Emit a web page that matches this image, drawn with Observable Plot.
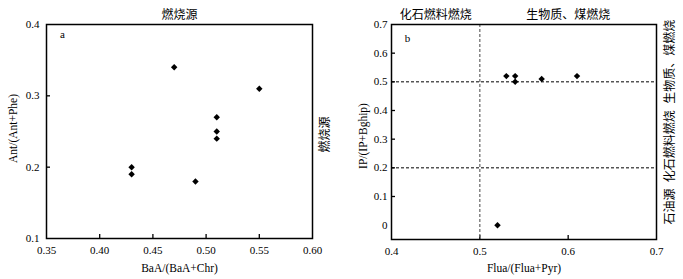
<!DOCTYPE html>
<html>
<head>
<meta charset="utf-8">
<script src="https://cdn.jsdelivr.net/npm/d3@7"></script>
<script src="https://cdn.jsdelivr.net/npm/@observablehq/plot@0.6"></script>
<style>
  body { margin: 0; background: #fff; }
  #wrap { display: flex; width: 683px; height: 279px; }
  #wrap svg, #wrap svg text { font-family: "Liberation Serif", "Times New Roman", "Noto Sans CJK SC", serif !important; }
</style>
</head>
<body>
<div id="wrap"></div>
<script>
// ---- Panel a data ----
const aX = [0.43, 0.43, 0.47, 0.49, 0.51, 0.51, 0.51, 0.55];
const aY = [0.20, 0.19, 0.34, 0.18, 0.27, 0.25, 0.24, 0.31];
const aXTicks = [0.35, 0.40, 0.45, 0.50, 0.55, 0.60];
const aYTicks = [0.1, 0.2, 0.3, 0.4];
const aXLabel = "BaA/(BaA+Chr)";
const aYLabel = "Ant/(Ant+Phe)";
const aTopLabel = "燃烧源";
const aRightLabel = "燃烧源";

// ---- Panel b data ----
const bX = [0.53, 0.54, 0.54, 0.57, 0.61, 0.52];
const bY = [0.52, 0.52, 0.50, 0.51, 0.52, 0.00];
const bXTicks = [0.4, 0.5, 0.6, 0.7];
const bYTicks = [0, 0.1, 0.2, 0.3, 0.4, 0.5, 0.6, 0.7];
const bXLabel = "Flua/(Flua+Pyr)";
const bYLabel = "IP/(IP+Bghip)";
const bXThreshold = [0.5];
const bYThresholds = [0.2, 0.5];
const bTopLabels = ["化石燃料燃烧", "生物质、煤燃烧"];
const bTopRegions = [[0.4, 0.5], [0.5, 0.7]];
const bRightLabels = ["生物质、煤燃烧", "化石燃料燃烧", "石油源"];
const bRightLabelY = [0.57, 0.275, 0.065];

const fs = 11;
const lfs = 11.5;
const ff = '"Liberation Serif", "Times New Roman", "Noto Sans CJK SC", serif';
const center = {textAnchor: "middle", lineAnchor: "middle", fontFamily: ff, fill: "black"};

function inwardTicks(xt, yt, w, h, m) {
  const innerW = w - m.left - m.right, innerH = h - m.top - m.bottom;
  return [
    Plot.ruleX(xt, {x: d => d, insetTop: innerH - 4, stroke: "black", strokeWidth: 1.3}),
    Plot.ruleY(yt, {y: d => d, insetRight: innerW - 4, stroke: "black", strokeWidth: 1.3})
  ];
}

// Panel a
const mA = {left: 46, right: 29, top: 24, bottom: 41};
const plotA = Plot.plot({
  width: 341, height: 279,
  marginLeft: mA.left, marginRight: mA.right, marginTop: mA.top, marginBottom: mA.bottom,
  style: {fontSize: fs + "px", fontFamily: ff, color: "black"},
  x: {domain: [0.35, 0.60]},
  y: {domain: [0.1, 0.4]},
  marks: [
    Plot.axisX(aXTicks, {tickSize: 0, tickPadding: 8, tickFormat: d3.format(".2f"), label: null, fontSize: fs, fontFamily: ff}),
    Plot.axisY(aYTicks, {tickSize: 0, tickPadding: 7, tickFormat: d3.format(".1f"), label: null, fontSize: fs, fontFamily: ff}),
    ...inwardTicks(aXTicks.slice(1, -1), aYTicks.slice(1, -1), 341, 279, mA),
    Plot.frame({stroke: "black", strokeWidth: 1.5}),
    Plot.dot(aX.map((x, i) => ({x, y: aY[i]})), {x: "x", y: "y", symbol: "diamond2", r: 2.9, fill: "black", stroke: null}),
    Plot.text(["a"], {...center, frameAnchor: "top-left", dx: 16, dy: 10, fontSize: 11}),
    Plot.text([aTopLabel], {...center, frameAnchor: "top", dy: -9, fontSize: 12}),
    Plot.text([aRightLabel], {...center, frameAnchor: "right", dx: 13, dy: 3, rotate: -90, fontSize: 12}),
    Plot.text([aXLabel], {...center, frameAnchor: "bottom", dy: 30, fontSize: lfs}),
    Plot.text([aYLabel], {...center, frameAnchor: "left", dx: -33, dy: -3, rotate: -90, fontSize: lfs})
  ]
});

// Panel b
const mB = {left: 50, right: 27, top: 24, bottom: 40};
const plotB = Plot.plot({
  width: 342, height: 279,
  marginLeft: mB.left, marginRight: mB.right, marginTop: mB.top, marginBottom: mB.bottom,
  style: {fontSize: fs + "px", fontFamily: ff, color: "black"},
  x: {domain: [0.4, 0.7]},
  y: {domain: [-0.05, 0.7]},
  marks: [
    Plot.axisX(bXTicks, {tickSize: 0, tickPadding: 8, tickFormat: d3.format(".1f"), label: null, fontSize: fs, fontFamily: ff}),
    Plot.axisY(bYTicks, {tickSize: 0, tickPadding: 4, tickFormat: d => d === 0 ? "0" : d.toFixed(1), label: null, fontSize: fs, fontFamily: ff}),
    ...inwardTicks(bXTicks.slice(1, -1), bYTicks.slice(1, -1), 342, 279, mB),
    Plot.ruleY(bYThresholds, {y: d => d, stroke: "black", strokeWidth: 1, strokeDasharray: "3,2"}),
    Plot.ruleX(bXThreshold, {x: d => d, stroke: "#666", strokeWidth: 1.2, strokeDasharray: "3,2"}),
    Plot.frame({stroke: "black", strokeWidth: 1.5}),
    Plot.dot(bX.map((x, i) => ({x, y: bY[i]})), {x: "x", y: "y", symbol: "diamond2", r: 2.9, fill: "black", stroke: null}),
    Plot.text(["b"], {...center, frameAnchor: "top-left", dx: 16, dy: 14, fontSize: 11}),
    Plot.text(bTopLabels.map((t, i) => ({t, x: (bTopRegions[i][0] + bTopRegions[i][1]) / 2})),
      {...center, x: "x", text: "t", frameAnchor: "top", dy: -9, fontSize: 12}),
    Plot.text(bRightLabels.map((t, i) => ({t, y: bRightLabelY[i]})),
      {...center, y: "y", text: "t", frameAnchor: "right", dx: 14, rotate: -90, fontSize: 12}),
    Plot.text([bXLabel], {...center, frameAnchor: "bottom", dy: 29, fontSize: lfs}),
    Plot.text([bYLabel], {...center, frameAnchor: "left", dx: -28, dy: 4, rotate: -90, fontSize: lfs})
  ]
});

document.getElementById("wrap").append(plotA, plotB);
</script>
</body>
</html>
